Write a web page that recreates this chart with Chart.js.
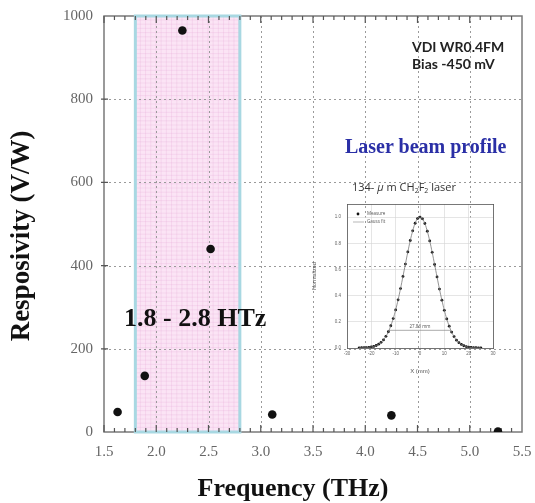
<!DOCTYPE html>
<html>
<head>
<meta charset="utf-8">
<script src="https://cdn.jsdelivr.net/npm/chart.js@4/dist/chart.umd.min.js"></script>
<style>
  html, body { margin: 0; padding: 0; background: #fff; }
  #wrap { position: relative; width: 535px; height: 503px; overflow: hidden; }
  #main { position: absolute; left: 0; top: 0; }
  #insetBox { position: absolute; left: 305px; top: 200px; width: 195px; height: 180px; }
  .note { position: absolute; white-space: nowrap; line-height: 1; }
  #vdi { left: 412px; top: 38px; font: bold 14px Lato, "Open Sans", sans-serif; line-height: 17px; color: #222; }
  #beamTitle { left: 345px; top: 135px; font: bold 20px "Liberation Serif", serif; color: #2a2fa6; }
  #bandLabel { left: 124px; top: 303px; font: bold 26px "Liberation Serif", serif; color: #111; }
  #laserName { left: 352px; top: 179px; font: 11px "Open Sans", sans-serif; color: #333; }
  #laserName sub { font-size: 7px; vertical-align: -2px; }
</style>
</head>
<body>
<div id="wrap">
  <canvas id="main" width="535" height="503"></canvas>
  <div id="insetBox"><canvas id="inset" width="195" height="180"></canvas></div>
  <div class="note" id="vdi">VDI WR0.4FM<br>Bias -450 mV</div>
  <div class="note" id="beamTitle">Laser beam profile</div>
  <div class="note" id="laserName">134- <i>μ</i> m CH<sub>2</sub>F<sub>2</sub> laser</div>
  <div class="note" id="bandLabel">1.8 - 2.8 HTz</div>
</div>
<script>
// Detector responsivity measured at each laser line
const freqTHz = [1.63, 1.89, 2.25, 2.52, 3.11, 4.25, 5.27];
const responsivityVW = [48, 135, 965, 440, 42, 40, 1];

// Highlighted frequency band (THz)
const bandTHz = [1.8, 2.8];

// Axis tick values and titles
const xTickValues = [1.5, 2.0, 2.5, 3.0, 3.5, 4.0, 4.5, 5.0, 5.5];
const yTickValues = [0, 200, 400, 600, 800, 1000];
const xTitle = 'Frequency (THz)';
const yTitle = 'Resposivity (V/W)';

// Beam profile scan of the 134 µm CH2F2 laser
const profileXmm = [-25, -24, -23, -22, -21, -20, -19, -18, -17, -16, -15, -14, -13, -12, -11, -10, -9, -8, -7, -6, -5, -4, -3, -2, -1,
                    0, 1, 2, 3, 4, 5, 6, 7, 8, 9, 10, 11, 12, 13, 14, 15, 16, 17, 18, 19, 20, 21, 22, 23, 24, 25];
const profileNorm = [0.001, 0.002, 0.002, 0.003, 0.005, 0.008, 0.012, 0.019, 0.029, 0.043, 0.062, 0.089, 0.124, 0.170, 0.225,
                     0.291, 0.368, 0.454, 0.547, 0.641, 0.734, 0.821, 0.895, 0.953, 0.989,
                     1.000, 0.987, 0.951, 0.892, 0.818, 0.731, 0.638, 0.543, 0.450, 0.365, 0.288, 0.222, 0.167, 0.122, 0.087,
                     0.060, 0.041, 0.027, 0.017, 0.011, 0.007, 0.004, 0.003, 0.002, 0.001, 0.001];
const beamEdgesMm = [-12.7, 12.7];
const beamEdgeLevel = 0.135;
const beamWidthLabel = '27.86 mm';
const insetXTicks = [-30, -20, -10, 0, 10, 20, 30];
const insetYTicks = [0, 0.2, 0.4, 0.6, 0.8, 1.0];

const serif = '"Liberation Serif", "Times New Roman", serif';

// keep the plot area fixed: no extra room for overhanging tick labels
function fixX(h) { return s => { s.height = h; s.paddingLeft = 0; s.paddingRight = 0; }; }
function fixY(w) { return s => { s.width = w; s.paddingTop = 0; s.paddingBottom = 0; }; }

// Band shading, dotted grid, frame and minor ticks
const framePlugin = {
  id: 'frameAndBand',
  beforeDatasetsDraw(chart) {
    const { ctx, chartArea: a, scales: { x, y } } = chart;
    ctx.save();
    // band fill
    const bx1 = x.getPixelForValue(bandTHz[0]);
    const bx2 = x.getPixelForValue(bandTHz[1]);
    ctx.fillStyle = '#fbe4f5';
    ctx.fillRect(bx1, a.top, bx2 - bx1, a.bottom - a.top);
    // fine graph-paper lines inside the band
    ctx.strokeStyle = 'rgba(228, 160, 212, 0.38)';
    ctx.lineWidth = 0.6;
    ctx.beginPath();
    for (let px = bx1 + 5; px < bx2; px += 5.2) { ctx.moveTo(px, a.top); ctx.lineTo(px, a.bottom); }
    for (let py = a.top + 4; py < a.bottom; py += 4.2) { ctx.moveTo(bx1, py); ctx.lineTo(bx2, py); }
    ctx.stroke();

    // dotted major grid
    ctx.strokeStyle = '#9a9a9a';
    ctx.lineWidth = 1;
    ctx.setLineDash([2, 3]);
    ctx.beginPath();
    xTickValues.slice(1, -1).forEach(v => {
      const px = Math.round(x.getPixelForValue(v)) + 0.5;
      ctx.moveTo(px, a.top); ctx.lineTo(px, a.bottom);
    });
    yTickValues.slice(1, -1).forEach(v => {
      const py = Math.round(y.getPixelForValue(v)) + 0.5;
      ctx.moveTo(a.left, py); ctx.lineTo(a.right, py);
    });
    ctx.stroke();
    ctx.setLineDash([]);

    // frame
    ctx.strokeStyle = '#7a7a7a';
    ctx.lineWidth = 1.5;
    ctx.strokeRect(a.left, a.top, a.right - a.left, a.bottom - a.top);

    // band outline
    ctx.strokeStyle = '#a8d8e2';
    ctx.lineWidth = 3;
    ctx.strokeRect(bx1, a.top, bx2 - bx1, a.bottom - a.top);

    // x ticks (major + minor), top and bottom, pointing inward
    ctx.strokeStyle = '#555';
    ctx.lineWidth = 1.2;
    ctx.beginPath();
    for (let i = 0; i < xTickValues.length - 1; i++) {
      const v0 = xTickValues[i], v1 = xTickValues[i + 1];
      for (let k = 0; k < 5; k++) {
        const v = v0 + (v1 - v0) * k / 5;
        const px = x.getPixelForValue(v);
        const len = k === 0 ? 7 : 4;
        ctx.moveTo(px, a.bottom); ctx.lineTo(px, a.bottom - len);
        ctx.moveTo(px, a.top); ctx.lineTo(px, a.top + len);
      }
    }
    // y ticks on the left edge
    yTickValues.slice(1, -1).forEach(v => {
      const py = y.getPixelForValue(v);
      ctx.moveTo(a.left - 3, py); ctx.lineTo(a.left + 4, py);
    });
    ctx.stroke();
    ctx.restore();
  },
  afterDraw(chart) {
    // axis titles
    const { ctx } = chart;
    ctx.save();
    ctx.fillStyle = '#111';
    ctx.textAlign = 'center';
    ctx.textBaseline = 'middle';
    ctx.font = 'bold 26px ' + serif;
    ctx.fillText(xTitle, 293, 489);
    ctx.translate(22, 236);
    ctx.rotate(-Math.PI / 2);
    ctx.font = 'bold 27px ' + serif;
    ctx.fillText(yTitle, 0, 0);
    ctx.restore();
  }
};

new Chart(document.getElementById('main'), {
  type: 'scatter',
  data: {
    datasets: [{
      label: 'Responsivity',
      data: freqTHz.map((f, i) => ({ x: f, y: responsivityVW[i] })),
      pointRadius: 4.3,
      pointHoverRadius: 4.3,
      backgroundColor: '#111',
      borderWidth: 0
    }]
  },
  options: {
    responsive: false,
    animation: false,
    devicePixelRatio: 1,
    layout: { padding: { left: 0, right: 13, top: 16, bottom: 0 } },
    plugins: { legend: { display: false }, tooltip: { enabled: false } },
    scales: {
      x: {
        type: 'linear', min: 1.5, max: 5.5,
        afterBuildTicks: s => { s.ticks = xTickValues.map(v => ({ value: v })); },
        afterFit: fixX(71),
        grid: { display: false, drawTicks: false },
        border: { display: false },
        ticks: {
          autoSkip: false, maxRotation: 0, padding: 11, color: '#666',
          font: { family: serif, size: 15 },
          callback: v => Number(v).toFixed(1)
        }
      },
      y: {
        type: 'linear', min: 0, max: 1000,
        afterBuildTicks: s => { s.ticks = yTickValues.map(v => ({ value: v })); },
        afterFit: fixY(104),
        grid: { display: false, drawTicks: false },
        border: { display: false },
        ticks: { padding: 11, color: '#666', font: { family: serif, size: 15 }, callback: v => String(v) }
      }
    }
  },
  plugins: [framePlugin]
});

// Inset legend and beam-width label
const insetPlugin = {
  id: 'insetNotes',
  afterDatasetsDraw(chart) {
    const { ctx, chartArea: a, scales: { x, y } } = chart;
    ctx.save();
    ctx.font = '4.5px "Open Sans", sans-serif';
    ctx.textBaseline = 'middle';
    const lx = a.left + 8, ly = a.top + 10;
    ctx.beginPath(); ctx.arc(lx + 3, ly, 1.4, 0, Math.PI * 2); ctx.fillStyle = '#111'; ctx.fill();
    ctx.fillStyle = '#555';
    ctx.fillText('Measure', lx + 12, ly);
    ctx.strokeStyle = '#888'; ctx.lineWidth = 0.6;
    ctx.beginPath(); ctx.moveTo(lx - 2, ly + 8); ctx.lineTo(lx + 9, ly + 8); ctx.stroke();
    ctx.fillText('Gauss fit', lx + 12, ly + 8);
    ctx.textAlign = 'center';
    ctx.fillText(beamWidthLabel, x.getPixelForValue(0), y.getPixelForValue(beamEdgeLevel) - 4);
    ctx.restore();
  }
};

new Chart(document.getElementById('inset'), {
  type: 'scatter',
  data: {
    datasets: [
      {
        label: 'Gauss fit',
        type: 'line',
        data: profileXmm.map((v, i) => ({ x: v, y: profileNorm[i] })),
        borderColor: '#777', borderWidth: 0.8, pointRadius: 0, tension: 0.4, fill: false
      },
      {
        label: 'Measure',
        data: profileXmm.map((v, i) => ({ x: v, y: profileNorm[i] })),
        pointRadius: 1.4, backgroundColor: '#111', borderWidth: 0
      },
      {
        label: 'Beam width',
        type: 'line',
        data: beamEdgesMm.map(v => ({ x: v, y: beamEdgeLevel })),
        borderColor: '#888', borderWidth: 0.7, pointRadius: 0, fill: false
      }
    ]
  },
  options: {
    responsive: false,
    animation: false,
    devicePixelRatio: 1,
    layout: { padding: { left: 0, right: 7, top: 4, bottom: 0 } },
    plugins: { legend: { display: false }, tooltip: { enabled: false } },
    scales: {
      x: {
        type: 'linear', min: -30, max: 30,
        afterBuildTicks: s => { s.ticks = insetXTicks.map(v => ({ value: v })); },
        afterFit: fixX(32),
        grid: { color: '#d4d4d4', lineWidth: 0.6, drawTicks: false },
        border: { color: '#555', width: 0.8 },
        ticks: { autoSkip: false, maxRotation: 0, padding: 3, color: '#666', font: { size: 4.5 } },
        title: { display: true, text: 'X (mm)', color: '#555', font: { size: 6 }, padding: { top: 0, bottom: 5 } }
      },
      y: {
        type: 'linear', min: 0, max: 1.1,
        afterBuildTicks: s => { s.ticks = insetYTicks.map(v => ({ value: v })); },
        afterFit: fixY(42),
        grid: { color: '#d4d4d4', lineWidth: 0.6, drawTicks: false },
        border: { color: '#555', width: 0.8 },
        ticks: { padding: 6, color: '#666', font: { size: 4.5 }, callback: v => Number(v).toFixed(1) },
        title: { display: true, text: 'Normalized', color: '#555', font: { size: 5.5 }, padding: { top: 6, bottom: 0 } }
      },
      x2: {
        type: 'linear', position: 'top', min: -30, max: 30,
        grid: { display: false, drawTicks: false },
        border: { color: '#555', width: 0.8 },
        ticks: { display: false },
        afterFit: fixX(0)
      },
      y2: {
        type: 'linear', position: 'right', min: 0, max: 1.1,
        grid: { display: false, drawTicks: false },
        border: { color: '#555', width: 0.8 },
        ticks: { display: false },
        afterFit: fixY(0)
      }
    }
  },
  plugins: [insetPlugin]
});
</script>
</body>
</html>
